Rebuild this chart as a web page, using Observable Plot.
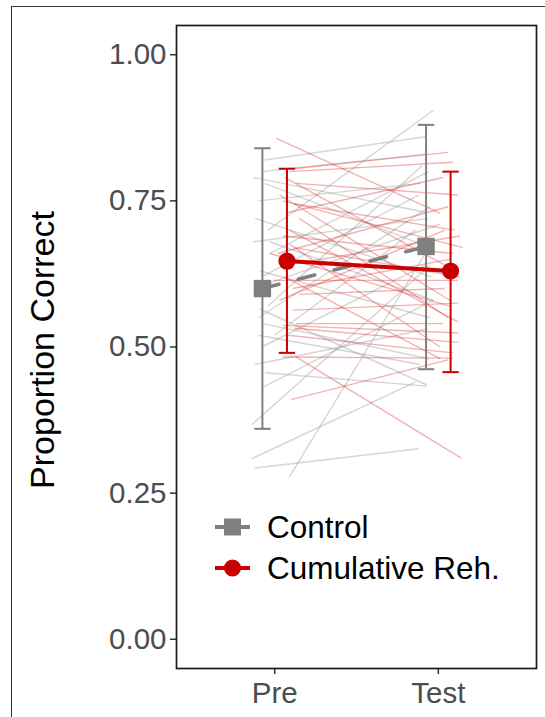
<!DOCTYPE html>
<html><head><meta charset="utf-8">
<script src="https://cdn.jsdelivr.net/npm/d3@7"></script>
<script src="https://cdn.jsdelivr.net/npm/@observablehq/plot@0.6"></script>
<style>
body{margin:0;background:#fff;width:545px;height:717px;overflow:hidden;position:relative;font-family:"Liberation Sans",Arial,sans-serif;}
#frame{position:absolute;left:11px;top:6px;width:600px;height:800px;border:1.5px solid #333;box-sizing:border-box;}
#chart{position:absolute;left:0;top:0;}
#ytitle{position:absolute;left:42px;top:350px;transform:translate(-50%,-50%) rotate(-90deg);font-size:34px;color:#000;white-space:nowrap;}
#legend{position:absolute;left:0;top:0;}
</style></head><body>
<div id="frame"></div>
<div id="chart"></div>
<div id="ytitle">Proportion Correct</div>
<div id="legend"></div>
<script>
const phases = ["Pre", "Test"];
const groups = ["Control", "Cumulative Reh."];
const yTicks = [0, 0.25, 0.5, 0.75, 1];

// group means and error bar limits (Pre, Test)
const controlMean = [0.600, 0.672];
const controlLower = [0.360, 0.462];
const controlUpper = [0.840, 0.880];
const cumMean = [0.647, 0.630];
const cumLower = [0.490, 0.457];
const cumUpper = [0.805, 0.800];

// individual participants, Control (jittered x positions in phase units)
const ctrlPre  = [0.70,0.82,0.80,0.79,0.78,0.75,0.72,0.66,0.62,0.55,0.52,0.50,0.367,0.309,0.293,0.278,0.456,0.52,0.54,0.57,0.63,0.68,0.60,0.43,0.47,0.565,0.68];
const ctrlTest = [0.905,0.86,0.83,0.73,0.67,0.78,0.62,0.80,0.76,0.74,0.70,0.64,0.64,0.44,0.326,0.66,0.433,0.47,0.48,0.81,0.55,0.58,0.71,0.58,0.53,0.435,0.72];
const ctrlPreX = [0.96,0.94,0.92,0.87,0.94,0.90,0.88,0.97,0.92,0.90,1.00,0.92,0.86,0.86,0.88,1.09,0.94,0.90,0.93,0.96,0.91,0.97,0.87,0.92,0.88,0.91,0.87];
const ctrlTestX= [1.97,1.93,1.92,1.93,1.95,1.89,1.96,1.94,1.88,1.95,1.86,1.92,1.95,1.86,1.88,1.92,1.93,1.89,1.94,1.90,1.95,1.97,2.01,1.97,1.92,1.93,1.94];

// individual participants, Cumulative Reh.
const cumPre  = [0.857,0.805,0.80,0.78,0.79,0.76,0.745,0.73,0.72,0.70,0.676,0.69,0.66,0.64,0.614,0.60,0.58,0.563,0.54,0.537,0.532,0.52,0.483,0.483,0.41,0.62,0.67,0.75,0.59,0.66];
const cumTest = [0.729,0.833,0.816,0.76,0.64,0.58,0.70,0.79,0.55,0.543,0.50,0.66,0.74,0.69,0.614,0.65,0.70,0.575,0.54,0.524,0.508,0.49,0.481,0.31,0.478,0.48,0.62,0.67,0.60,0.57];
const cumPreX = [1.01,1.11,1.09,1.13,1.06,1.03,1.12,1.08,1.15,1.09,1.09,1.05,1.02,1.07,0.99,1.11,1.03,1.11,1.13,1.05,1.12,1.08,1.05,1.13,1.10,1.06,1.12,1.05,1.15,0.97];
const cumTestX= [2.01,2.06,2.09,2.12,2.04,2.07,2.10,2.03,2.06,2.12,2.01,2.09,2.06,2.13,2.12,2.07,2.04,2.12,2.03,2.12,2.12,2.09,2.09,2.14,2.06,2.01,2.13,2.15,2.04,2.07];

const colors = {"Control": "#7f7f7f", "Cumulative Reh.": "#c80000"};
const dodge = 0.075;     // half distance between groups at a phase
const capW = 0.05;       // half width of error bar caps

const indivCtrl = ctrlPre.map((v, i) => ({x1: ctrlPreX[i], y1: v, x2: ctrlTestX[i], y2: ctrlTest[i]}));
const indivCum = cumPre.map((v, i) => ({x1: cumPreX[i], y1: v, x2: cumTestX[i], y2: cumTest[i]}));

const summary = [];
phases.forEach((p, i) => {
  summary.push({group: "Control", x: i + 1 - dodge, y: controlMean[i], lo: controlLower[i], hi: controlUpper[i]});
  summary.push({group: "Cumulative Reh.", x: i + 1 + dodge, y: cumMean[i], lo: cumLower[i], hi: cumUpper[i]});
});
const sCtrl = summary.filter(d => d.group === "Control");
const sCum = summary.filter(d => d.group === "Cumulative Reh.");

const chart = Plot.plot({
  width: 545, height: 717,
  marginLeft: 176, marginRight: 9, marginTop: 25, marginBottom: 49,
  style: {fontFamily: '"Liberation Sans", Arial, sans-serif', background: "transparent"},
  x: {type: "linear", domain: [0.4, 2.6]},
  y: {domain: [-0.05, 1.05]},
  marks: [
    Plot.axisY({ticks: yTicks, tickFormat: ".2f", tickSize: 6, tickPadding: 4, fontSize: 29.5, fill: "#4d4d4d", stroke: "#333", strokeWidth: 1.5, label: null}),
    Plot.axisX({ticks: [1, 2], tickFormat: d => phases[d - 1], tickSize: 6, tickPadding: 8, fontSize: 29.5, fill: "#4d4d4d", stroke: "#333", strokeWidth: 1.5, label: null}),
    Plot.link(indivCtrl, {x1: "x1", y1: "y1", x2: "x2", y2: "y2", stroke: "#9a9a9a", strokeOpacity: 0.42, strokeWidth: 1.4}),
    Plot.link(indivCum, {x1: "x1", y1: "y1", x2: "x2", y2: "y2", stroke: "#dd2a2a", strokeOpacity: 0.36, strokeWidth: 1.4}),
    Plot.ruleX(summary, {x: "x", y1: "lo", y2: "hi", stroke: d => colors[d.group], strokeWidth: 2}),
    Plot.link(summary, {x1: d => d.x - capW, x2: d => d.x + capW, y1: "hi", y2: "hi", stroke: d => colors[d.group], strokeWidth: 2}),
    Plot.link(summary, {x1: d => d.x - capW, x2: d => d.x + capW, y1: "lo", y2: "lo", stroke: d => colors[d.group], strokeWidth: 2}),
    Plot.line(sCtrl, {x: "x", y: "y", stroke: colors["Control"], strokeWidth: 3.6, strokeDasharray: "17,20"}),
    Plot.line(sCum, {x: "x", y: "y", stroke: colors["Cumulative Reh."], strokeWidth: 4}),
    Plot.dot(sCtrl, {x: "x", y: "y", symbol: "square", fill: colors["Control"], r: 9.8}),
    Plot.dot(sCum, {x: "x", y: "y", symbol: "circle", fill: colors["Cumulative Reh."], r: 8.6}),
    Plot.frame({stroke: "#1a1a1a", strokeWidth: 1.7})
  ]
});
document.getElementById("chart").appendChild(chart);

// legend
const leg = d3.select("#legend").append("svg").attr("width", 545).attr("height", 717)
  .style("font-family", '"Liberation Sans", Arial, sans-serif');
groups.forEach((g, i) => {
  const cy = 527 + i * 41;
  leg.append("line").attr("x1", 215).attr("x2", 250).attr("y1", cy).attr("y2", cy)
    .attr("stroke", colors[g]).attr("stroke-width", 4);
  if (g === "Control") {
    leg.append("rect").attr("x", 232.5 - 8.5).attr("y", cy - 8.5).attr("width", 17).attr("height", 17).attr("fill", colors[g]);
  } else {
    leg.append("circle").attr("cx", 232.5).attr("cy", cy).attr("r", 8.6).attr("fill", colors[g]);
  }
  leg.append("text").attr("x", 267).attr("y", cy).attr("dy", "0.36em").attr("font-size", 31.5).attr("fill", "#000").text(g);
});
</script>
</body></html>
